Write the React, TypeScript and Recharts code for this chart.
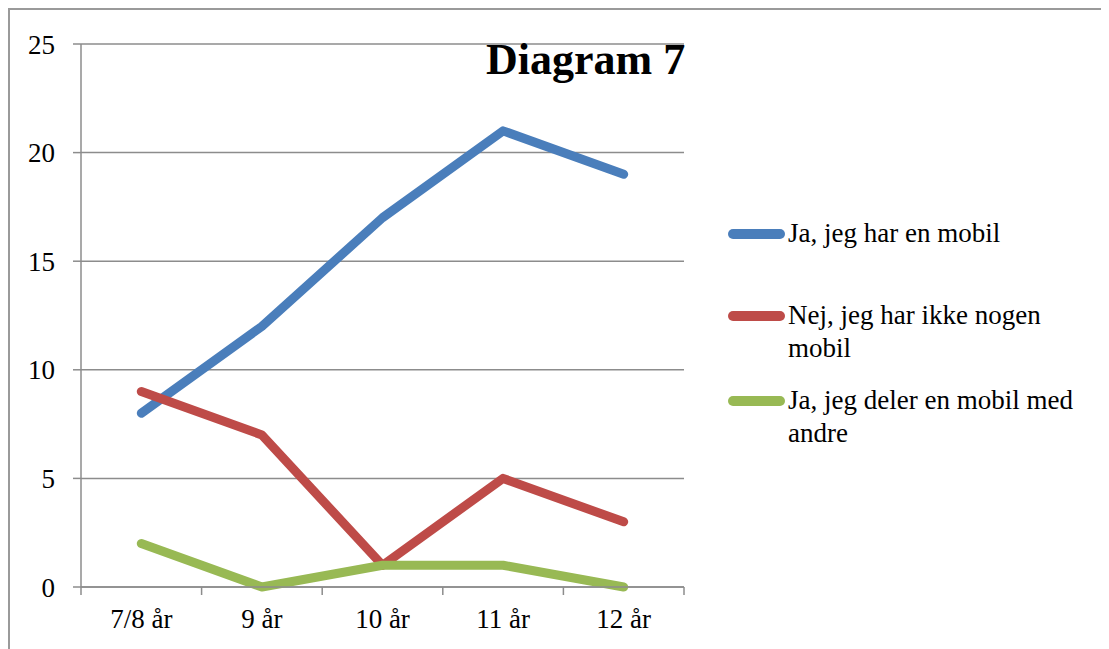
import React from "react";
import { LineChart, Line, XAxis, YAxis, CartesianGrid } from "recharts";

// Age groups on the x axis
const categories = ["7/8 år", "9 år", "10 år", "11 år", "12 år"];

// Number of children per answer
const harMobil = [8, 12, 17, 21, 19];
const ingenMobil = [9, 7, 1, 5, 3];
const delerMobil = [2, 0, 1, 1, 0];

const yTicks = [0, 5, 10, 15, 20, 25];

const seriesNames = [
  "Ja, jeg har en mobil",
  "Nej, jeg har ikke nogen mobil",
  "Ja, jeg deler en mobil med andre",
];
const seriesKeys = ["har", "ingen", "deler"];
const seriesColors = ["#4A7EBB", "#BE4B48", "#98B954"];

const data = categories.map((c, i) => ({
  name: c,
  har: harMobil[i],
  ingen: ingenMobil[i],
  deler: delerMobil[i],
}));

const FONT = '"Liberation Serif", "Times New Roman", serif';
const GRID = "#8c8c8c";
const W = 1101;
const H = 641;
const TICK_SIZE = 8;
const TICK_MARGIN = 14;

// Vertical offsets of each legend entry
const legendTops = [209, 291, 376];

// Category label with tick marks on the band boundaries instead of the centre
function BandTick(props: any) {
  const { x, y, payload, index, visibleTicksCount } = props;
  const half = payload?.offset ?? 0;
  const axisY = y - TICK_SIZE - TICK_MARGIN;
  const isLast = index === visibleTicksCount - 1;
  return (
    <g>
      <line
        x1={x - half}
        x2={x - half}
        y1={axisY}
        y2={axisY + TICK_SIZE}
        stroke={GRID}
        strokeWidth={1.5}
      />
      {isLast && (
        <line
          x1={x + half}
          x2={x + half}
          y1={axisY}
          y2={axisY + TICK_SIZE}
          stroke={GRID}
          strokeWidth={1.5}
        />
      )}
      <text
        x={x}
        y={y}
        dy="0.71em"
        textAnchor="middle"
        fill="#000"
        fontSize={27}
        fontFamily={FONT}
      >
        {payload.value}
      </text>
    </g>
  );
}

export default function App() {
  return (
    <div style={{ position: "relative", width: W, height: H, fontFamily: FONT }}>
      <div
        style={{
          position: "absolute",
          left: 0,
          top: 0,
          width: W,
          height: H,
          borderTop: "2px solid #9a9a9a",
          borderLeft: "2px solid #9a9a9a",
          boxSizing: "border-box",
        }}
      />
      <LineChart
        width={W}
        height={H}
        data={data}
        margin={{ top: 36, right: 425, bottom: 0, left: 0 }}
        style={{ position: "absolute", left: 0, top: 0 }}
      >
        <CartesianGrid vertical={false} stroke={GRID} strokeWidth={1.5} />
        <XAxis
          dataKey="name"
          scale="band"
          height={62}
          axisLine={{ stroke: GRID, strokeWidth: 1.5 }}
          tickLine={false}
          tickSize={TICK_SIZE}
          tickMargin={TICK_MARGIN}
          tick={<BandTick />}
        />
        <YAxis
          domain={[0, 25]}
          ticks={yTicks}
          width={73}
          tickSize={TICK_SIZE}
          tickMargin={18}
          axisLine={{ stroke: GRID, strokeWidth: 1.5 }}
          tickLine={{ stroke: GRID, strokeWidth: 1.5 }}
          tick={{ fill: "#000", fontSize: 27, fontFamily: FONT }}
        />
        {seriesKeys.map((k, i) => (
          <Line
            key={k}
            dataKey={k}
            name={seriesNames[i]}
            stroke={seriesColors[i]}
            strokeWidth={9}
            strokeLinecap="round"
            strokeLinejoin="round"
            dot={false}
            activeDot={false}
            isAnimationActive={false}
          />
        ))}
      </LineChart>
      <div
        style={{
          position: "absolute",
          left: 478,
          top: 30,
          fontSize: 44,
          lineHeight: "44px",
          fontWeight: "bold",
          color: "#000",
          whiteSpace: "nowrap",
        }}
      >
        Diagram 7
      </div>
      {seriesNames.map((n, i) => (
        <div
          key={n}
          style={{ position: "absolute", left: 720, top: legendTops[i], display: "flex" }}
        >
          <div
            style={{
              width: 57,
              height: 10,
              borderRadius: 5,
              background: seriesColors[i],
              marginTop: 12,
            }}
          />
          <div
            style={{
              marginLeft: 3,
              width: 310,
              fontSize: 27,
              lineHeight: "33px",
              color: "#000",
            }}
          >
            {n}
          </div>
        </div>
      ))}
    </div>
  );
}
